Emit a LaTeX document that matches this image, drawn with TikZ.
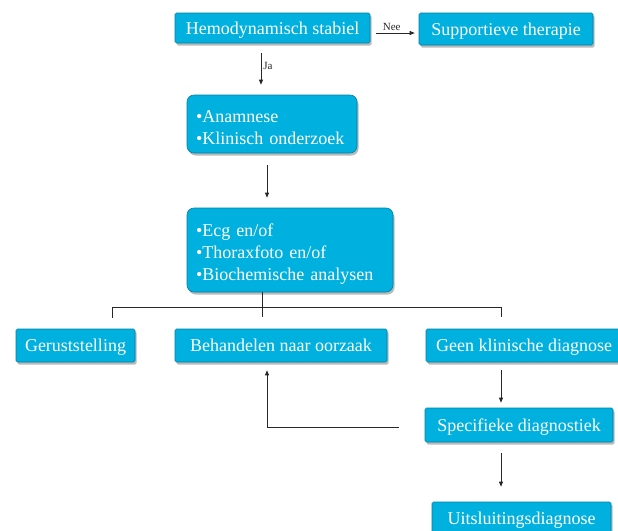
\documentclass[tikz,border=0pt]{standalone}
\usepackage{fontspec}
\setmainfont{Liberation Serif}
\usetikzlibrary{positioning, arrows.meta, calc, shadows}
\definecolor{boxcyan}{RGB}{0,176,222}
\definecolor{boxedge}{RGB}{0,128,168}
\definecolor{linegray}{RGB}{40,40,40}

\begin{document}
\begin{tikzpicture}[x=1pt, y=-1pt,
  cbox/.style={fill=boxcyan, draw=boxedge, line width=0.6pt, text=white,
    font=\fontsize{18}{22}\selectfont, rounded corners=1.5pt, inner sep=0pt,
    drop shadow={shadow xshift=1.5pt, shadow yshift=-2.5pt, fill=black!60, opacity=0.45}},
  box/.style={cbox, text depth=0pt},
  bigbox/.style={cbox, rounded corners=7pt, align=left, inner xsep=9pt,
    execute at begin node={\rule{0pt}{20pt}}},
  conn/.style={draw=linegray, line width=0.8pt},
  arr/.style={conn, -{Triangle[length=5pt, width=4pt]}},
  lbl/.style={font=\fontsize{11}{13}\selectfont, text=linegray, inner sep=2pt}]

\useasboundingbox (0,0) rectangle (618,530);

% Top row
\node[box, minimum width=195pt, minimum height=30pt] (hemo) at (272.5,28) {Hemodynamisch stabiel};
\node[box, minimum width=174pt, minimum height=32pt] (supp) at (506,29) {Supportieve therapie};

% Anamnese and tests
\node[bigbox, text width=152pt, minimum height=58pt] (anam) at (272,124)
  {•Anamnese\\•Klinisch onderzoek};
\node[bigbox, text width=188pt, minimum height=84pt] (ecg) at (290,250)
  {•Ecg en/of\\•Thoraxfoto en/of\\•Biochemische analysen};

% Outcomes
\node[box, minimum width=119pt, minimum height=33pt] (gerust) at (75.5,345.5) {Geruststelling};
\node[box, minimum width=212pt, minimum height=33pt] (behand) at (281,345.5) {Behandelen naar oorzaak};
\node[box, minimum width=196pt, minimum height=33pt] (geen) at (524,345.5) {Geen klinische diagnose};
\node[box, minimum width=188pt, minimum height=34pt] (spec) at (519,425) {Specifieke diagnostiek};
\node[box, minimum width=179pt, minimum height=32pt] (uits) at (521.5,518) {Uitsluitingsdiagnose};

% Arrows
\draw[arr] ([shift={(6,5)}]hemo.east) -- node[lbl, above, pos=0.4] {Nee} ([shift={(-4,4)}]supp.west);
\draw[arr] ([shift={(-11.5,10)}]hemo.south) -- node[lbl, right, pos=0.4] {Ja} ([shift={(-11,-10)}]anam.north);
\draw[arr] ([shift={(-5,12)}]anam.south) -- ([shift={(-23,-10)}]ecg.north);

% Branching
\draw[conn] ([xshift=-28pt]ecg.south) -- ([shift={(-19,-12)}]behand.north);
\draw[conn] ([shift={(37,-11)}]gerust.north) |- ([shift={(-23,-21)}]geen.north)
  -- ([shift={(-23,-12)}]geen.north);

\draw[arr] ([shift={(-23,8)}]geen.south) -- ([shift={(-18,-5)}]spec.north);
\draw[arr] ([shift={(-18,11)}]spec.south) -- ([shift={(-20.5,-15)}]uits.north);
\draw[arr] ([shift={(-26,2)}]spec.west) -| ([shift={(-14,8)}]behand.south);
\end{tikzpicture}
\end{document}
